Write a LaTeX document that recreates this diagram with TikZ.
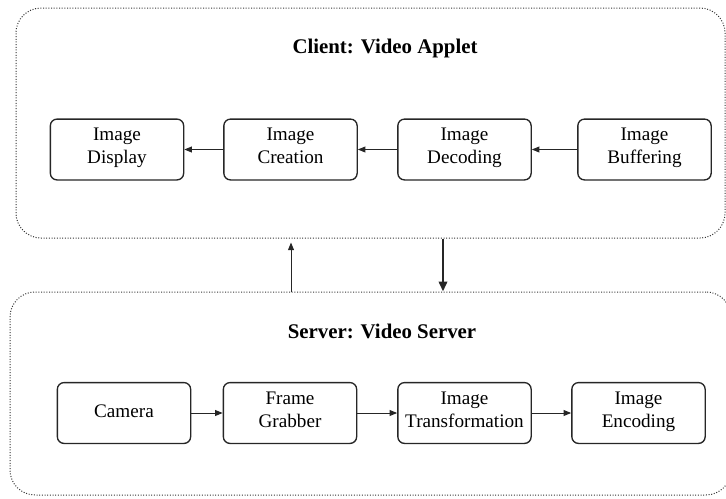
\documentclass[tikz,border=0pt]{standalone}
\usepackage{fontspec}
\setmainfont{Liberation Serif}
\usetikzlibrary{
  positioning,
  fit,
  backgrounds,
  arrows.meta,
  calc
}

\begin{document}
\begin{tikzpicture}[
      x=0.6pt, y=-0.6pt,
      >={Triangle[length=4.5pt,width=3.5pt]},
      stage/.style={
        rectangle,
        rounded corners=4pt,
        draw=black!85,
        line width=0.8pt,
        fill=white,
        minimum height=36.5pt,
        minimum width=80pt,
        inner sep=1pt,
        align=center,
        execute at end node=\strut,
        font=\fontsize{11.5}{13.8}\selectfont
      },
      tier/.style={
        rectangle,
        rounded corners=15pt,
        draw=black!80,
        densely dotted,
        line width=0.6pt,
        inner sep=0pt
      },
      tiertitle/.style={
        font=\fontsize{12.5}{15}\selectfont\bfseries
      },
      flow/.style={
        ->,
        line width=0.6pt,
        black!85
      },
      bigflow/.style={
        ->,
        >={Triangle[length=6pt,width=5pt]},
        line width=1.6pt,
        black!85
      }
    ]

    \useasboundingbox (0,0) rectangle (726,498);

    % Frame corners
    \coordinate (clientTL) at (16,8);
    \coordinate (clientBR) at (725,238);
    \coordinate (serverTL) at (10,292);
    \coordinate (serverBR) at (731,495);

    % Client: Video Applet
    \node[tier, fit=(clientTL)(clientBR)] (client) {};
    \node[tiertitle] (clienttitle) at (385,48) {Client: Video Applet};

    \node[stage] (display)  at (117,149.5)   {Image\\Display};
    \node[stage] (creation) at (290.5,149.5) {Image\\Creation};
    \node[stage] (decoding) at (464.5,149.5) {Image\\Decoding};
    \node[stage] (buffering) at (644.5,149.5) {Image\\Buffering};

    \draw[flow] (buffering) -- (decoding);
    \draw[flow] (decoding) -- (creation);
    \draw[flow] (creation) -- (display);

    % Server: Video Server
    \node[tier, fit=(serverTL)(serverBR)] (server) {};
    \node[tiertitle] (servertitle) at (382,331) {Server: Video Server};

    \node[stage] (camera)  at (124,413)   {Camera};
    \node[stage] (grabber) at (290,413)   {Frame\\Grabber};
    \node[stage] (transform) at (464.5,413) {Image\\Transformation};
    \node[stage] (encoding)  at (638.5,413) {Image\\Encoding};

    \draw[flow] (camera) -- (grabber);
    \draw[flow] (grabber) -- (transform);
    \draw[flow] (transform) -- (encoding);

    % Between the tiers
    \coordinate (upcol) at (291,0);
    \coordinate (downcol) at (443,0);
    \draw[flow] (server.north -| upcol) -- ($(client.south -| upcol)+(0,4)$);
    \draw[bigflow] (client.south -| downcol) -- (server.north -| downcol);

    \end{tikzpicture}
\end{document}
